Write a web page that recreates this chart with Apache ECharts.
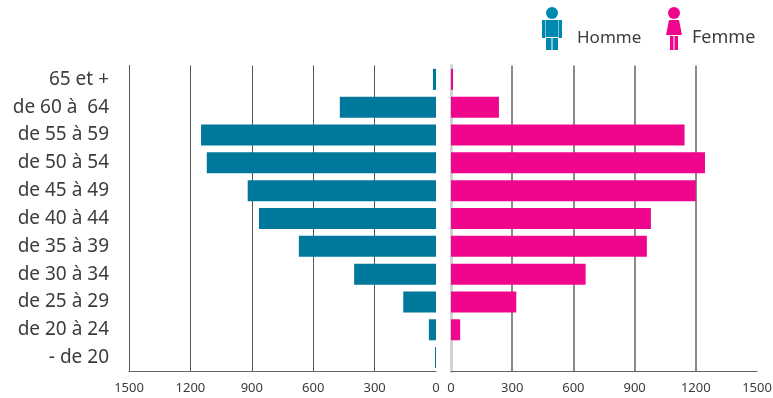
<!DOCTYPE html>
<html>
<head>
<meta charset="utf-8">
<style>html,body{margin:0;padding:0;background:#fff}#chart1{width:773px;height:398px}</style>
<script src="https://cdn.jsdelivr.net/npm/echarts@6/dist/echarts.min.js"></script>
</head>
<body>
<div id="chart1"></div>
<script>
var categories = ['65 et +', 'de 60 à  64', 'de 55 à 59', 'de 50 à 54', 'de 45 à 49', 'de 40 à 44', 'de 35 à 39', 'de 30 à 34', 'de 25 à 29', 'de 20 à 24', '- de 20'];
var homme = [15, 470, 1148, 1120, 920, 865, 670, 400, 160, 35, 5];
var femme = [10, 235, 1145, 1245, 1200, 980, 960, 660, 320, 45, 0];
var ticks = [0, 300, 600, 900, 1200, 1500];

var fontName = '"Noto Sans", sans-serif';
var textColor = '#3c3c3c';
var blue = '#00789c';
var pink = '#f0068c';

function valueAxis(idx, inverse, lineColor, lineWidth){
    return {
        type: 'value',
        gridIndex: idx,
        inverse: inverse,
        min: 0,
        max: ticks[ticks.length - 1],
        interval: 300,
        axisLine: {show: true, onZero: false, lineStyle: {color: '#666', width: 1}},
        axisTick: {show: false},
        axisLabel: {
            color: textColor, fontFamily: fontName, fontSize: 13, margin: 10,
            showMinLabel: true, showMaxLabel: true,
            formatter: function(v){ return String(v); }
        },
        splitLine: {show: true, showMinLine: false, showMaxLine: false, lineStyle: {color: lineColor, width: lineWidth}}
    };
}

function catAxis(idx, show, edgeColor, edgeWidth){
    return {
        type: 'category',
        gridIndex: idx,
        inverse: true,
        data: categories,
        axisLine: {show: true, onZero: false, lineStyle: {color: edgeColor, width: edgeWidth}},
        axisTick: {show: false},
        axisLabel: {show: show, color: textColor, fontFamily: fontName, fontSize: 19, margin: 20, align: 'right'}
    };
}

function person(x, color, skirt){
    var kids = [{type: 'circle', shape: {cx: x, cy: 13, r: 6}, style: {fill: color}}];
    if (skirt) {
        kids.push({type: 'polygon', shape: {points: [[x - 5, 20], [x + 5, 20], [x + 8, 35], [x - 8, 35]]}, style: {fill: color}});
        kids.push({type: 'rect', shape: {x: x - 4, y: 36, width: 3.5, height: 14}, style: {fill: color}});
        kids.push({type: 'rect', shape: {x: x + 0.5, y: 36, width: 3.5, height: 14}, style: {fill: color}});
    } else {
        kids.push({type: 'rect', shape: {x: x - 6, y: 20, width: 12, height: 17}, style: {fill: color}});
        kids.push({type: 'rect', shape: {x: x - 10, y: 20, width: 3.5, height: 18}, style: {fill: color}});
        kids.push({type: 'rect', shape: {x: x + 6.5, y: 20, width: 3.5, height: 18}, style: {fill: color}});
        kids.push({type: 'rect', shape: {x: x - 6, y: 38, width: 5.5, height: 12}, style: {fill: color}});
        kids.push({type: 'rect', shape: {x: x + 0.5, y: 38, width: 5.5, height: 12}, style: {fill: color}});
    }
    return {type: 'group', children: kids};
}

var chart1 = echarts.init(document.getElementById('chart1'), null, {renderer: 'canvas'});
var option = {
    animation: false,
    backgroundColor: '#fff',
    grid: [
        {left: 129, width: 307, top: 65.5, height: 306, outerBoundsMode: 'none'},
        {left: 451, width: 306, top: 65.5, height: 306, outerBoundsMode: 'none'}
    ],
    xAxis: [valueAxis(0, true, '#555', 1), valueAxis(1, false, '#8a8a8a', 2)],
    yAxis: [catAxis(0, true, '#555', 1), catAxis(1, false, '#d4d4d4', 3)],
    series: [
        {name: 'Homme', type: 'bar', xAxisIndex: 0, yAxisIndex: 0, data: homme, barWidth: 21, itemStyle: {color: blue}},
        {name: 'Femme', type: 'bar', xAxisIndex: 1, yAxisIndex: 1, data: femme, barWidth: 21, itemStyle: {color: pink}}
    ],
    graphic: [
        person(552, '#0089b0', false),
        person(674, pink, true),
        {type: 'text', left: 577, top: 29.5, style: {text: 'Homme', fill: textColor, font: '17px ' + fontName}},
        {type: 'text', left: 692, top: 29, style: {text: 'Femme', fill: textColor, font: '18px ' + fontName}}
    ]
};
chart1.setOption(option);
</script>
</body>
</html>
